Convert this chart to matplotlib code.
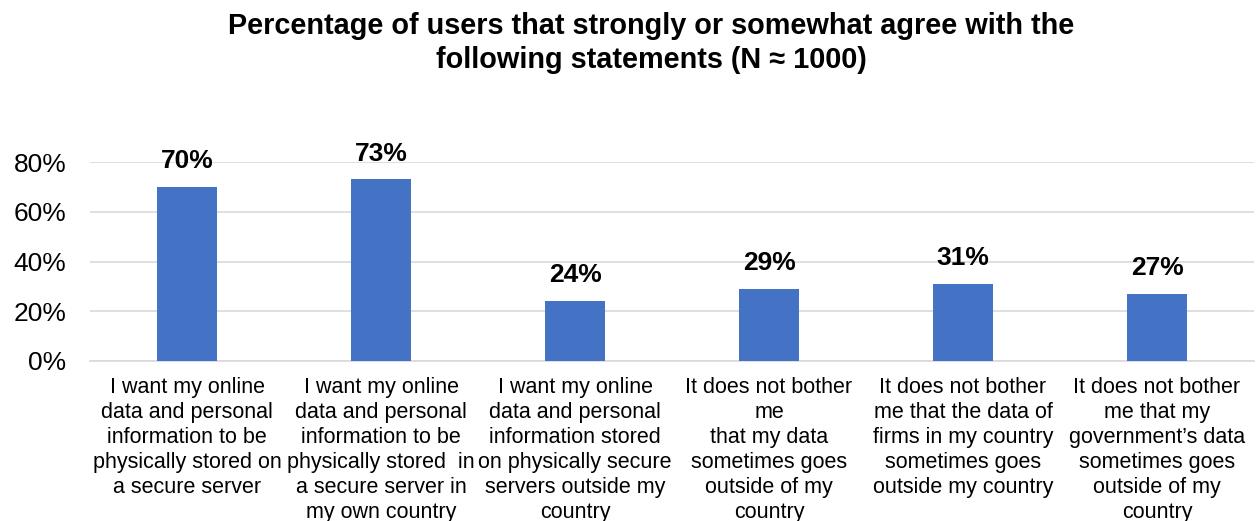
import matplotlib
matplotlib.use("Agg")
import matplotlib.pyplot as plt
from matplotlib.ticker import PercentFormatter

plt.rcParams['font.family'] = ['Liberation Sans', 'DejaVu Sans']

categories = [
    "I want my online\ndata and personal\ninformation to be\nphysically stored on\na secure server",
    "I want my online\ndata and personal\ninformation to be\nphysically stored  in\na secure server in\nmy own country",
    "I want my online\ndata and personal\ninformation stored\non physically secure\nservers outside my\ncountry",
    "It does not bother\nme\nthat my data\nsometimes goes\noutside of my\ncountry",
    "It does not bother\nme that the data of\nfirms in my country\nsometimes goes\noutside my country",
    "It does not bother\nme that my\ngovernment\u2019s data\nsometimes goes\noutside of my\ncountry",
]
values = [70, 73, 24, 29, 31, 27]
yticks = [0, 20, 40, 60, 80]

W, H = 1258, 521
fig = plt.figure(figsize=(W / 100, H / 100), dpi=100)
ax = fig.add_axes([90 / W, 1 - 361 / H, (1254 - 90) / W, (361 - 162) / H])

x = list(range(len(values)))
ax.bar(x, values, width=0.31, color="#4472C4", zorder=3)

for xi, v in zip(x, values):
    ax.annotate(f"{v}%", (xi, v), xytext=(0, 10), textcoords="offset points",
                ha="center", va="bottom", fontsize=19, fontweight="bold",
                annotation_clip=False)

ax.set_xlim(-0.5, len(values) - 0.5)
ax.set_ylim(0, 80)
ax.set_yticks(yticks)
ax.yaxis.set_major_formatter(PercentFormatter(decimals=0))
ax.grid(axis="y", color="#D9D9D9", linewidth=1.2, zorder=0)
ax.set_xticks(x)
ax.set_xticklabels(categories, fontsize=15.5, linespacing=1.245)
ax.tick_params(axis="both", length=0)
ax.tick_params(axis="x", pad=11.5)
ax.tick_params(axis="y", labelsize=19, pad=17)
for s in ["top", "right", "left"]:
    ax.spines[s].set_visible(False)
ax.spines["bottom"].set_color("#D9D9D9")
ax.spines["bottom"].set_linewidth(1.2)

fig.text(651 / W, 1 - 43 / H,
         "Percentage of users that strongly or somewhat agree with the\nfollowing statements (N \u2248 1000)",
         ha="center", va="center", fontsize=20.8, fontweight="bold", linespacing=1.3)

fig.savefig("out.png", dpi=100, facecolor="white")
